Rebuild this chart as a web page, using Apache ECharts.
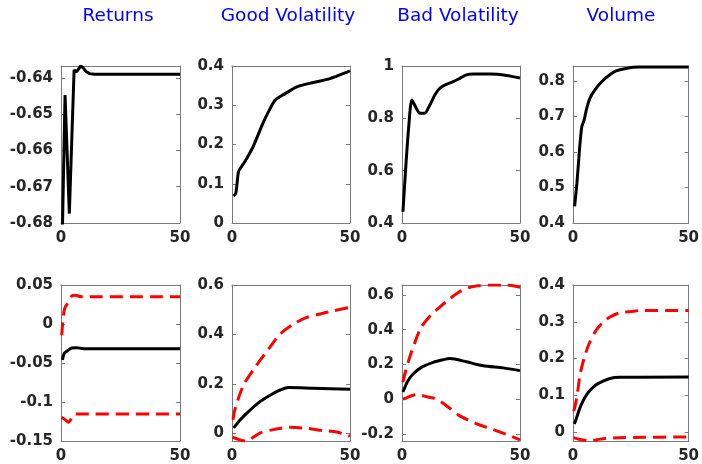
<!DOCTYPE html>
<html>
<head>
<meta charset="utf-8">
<script src="https://cdn.jsdelivr.net/npm/echarts@6/dist/echarts.min.js"></script>
<style>
html,body{margin:0;padding:0;background:#fff;}
#chart{width:702px;height:464px;}
</style>
</head>
<body>
<div id="chart"></div>
<script>
// ---- Titles ----
const titles = ['Returns', 'Good Volatility', 'Bad Volatility', 'Volume'];

// ---- Horizon (x) tick labels ----
const xTicks = [0, 50];

// ---- Top row: point estimates ----
const retTopX = [0.5, 1.7, 3.5, 5.5, 6.5, 8.3, 9.3, 10.5, 12, 14, 50];
const retTopY = [-0.685, -0.6447, -0.6774, -0.6378, -0.6383, -0.6367, -0.6372, -0.6382, -0.6388, -0.639, -0.639];

const gvTopX = [0.6, 1.6, 2.8, 4.2, 6.3, 9.2, 13.4, 16.2, 18.3, 21.8, 27.5, 34.5, 41.5, 49, 50];
const gvTopY = [0.069, 0.075, 0.132, 0.145, 0.165, 0.198, 0.258, 0.292, 0.313, 0.327, 0.347, 0.358, 0.368, 0.385, 0.388];

const bvTopX = [0.4, 1.8, 2.8, 4.2, 6.1, 7.5, 9.6, 11.8, 13.9, 16, 18.8, 21.7, 24.5, 27.3, 30.2, 37.3, 44.3, 50];
const bvTopY = [0.443, 0.641, 0.762, 0.870, 0.838, 0.819, 0.819, 0.851, 0.889, 0.915, 0.930, 0.940, 0.953, 0.966, 0.969, 0.969, 0.964, 0.954];

const voTopX = [0.7, 1.7, 2.8, 3.8, 4.8, 5.9, 7.3, 9.4, 12.3, 15.1, 18.6, 22.8, 28.5, 36.9, 50];
const voTopY = [0.447, 0.512, 0.606, 0.671, 0.690, 0.722, 0.751, 0.774, 0.797, 0.813, 0.828, 0.835, 0.839, 0.839, 0.839];

// ---- Bottom row: point estimate (black) and bands (red dashed) ----
const retBotX = [0.6, 1.3, 2.4, 4.5, 6.6, 9.4, 50];
const retBotY = [-0.046, -0.038, -0.035, -0.0307, -0.0303, -0.0316, -0.0316];
const retUpX = [0.3, 1.0, 1.7, 3.1, 4.5, 5.9, 8.7, 50];
const retUpY = [-0.0147, 0.0107, 0.0213, 0.0277, 0.036, 0.0369, 0.0348, 0.0348];
const retLoX = [0.3, 1.7, 3.1, 4.5, 5.9, 50];
const retLoY = [-0.1196, -0.1226, -0.126, -0.1205, -0.1154, -0.1154];

const gvBotX = [0.7, 3.5, 6.3, 12, 17.6, 20.4, 23.9, 34.5, 50];
const gvBotY = [0.023, 0.056, 0.083, 0.130, 0.163, 0.176, 0.186, 0.183, 0.179];
const gvUpX = [0.4, 1.4, 4.9, 9.9, 15.5, 20.4, 26, 31.7, 37.3, 43, 50];
const gvUpY = [0.056, 0.103, 0.196, 0.269, 0.342, 0.402, 0.442, 0.469, 0.483, 0.496, 0.51];
const gvLoX = [0.2, 5.6, 12, 17.6, 24.6, 31.7, 38.7, 44.4, 50];
const gvLoY = [-0.0145, -0.030, 0.003, 0.016, 0.026, 0.021, 0.012, 0.006, -0.010];

const bvBotX = [0.4, 2.5, 4.7, 8.2, 13.2, 17.4, 20.3, 27.3, 34.4, 42.9, 50];
const bvBotY = [0.041, 0.106, 0.145, 0.183, 0.212, 0.227, 0.234, 0.215, 0.192, 0.180, 0.164];
const bvUpX = [0.4, 1, 3, 5, 8, 12, 16, 20, 24, 28, 32, 38, 44, 50];
const bvUpY = [0.097, 0.135, 0.23, 0.31, 0.41, 0.48, 0.53, 0.575, 0.615, 0.64, 0.653, 0.657, 0.657, 0.644];
const bvLoX = [0.4, 1, 6, 11, 14, 17, 20, 24, 28, 33, 38, 44, 50];
const bvLoY = [0.0, 0.003, 0.026, 0.012, 0.004, -0.020, -0.050, -0.092, -0.120, -0.149, -0.172, -0.202, -0.234];

const voBotX = [0.6, 2, 3, 5, 7, 10, 13, 16, 20, 50];
const voBotY = [0.022, 0.048, 0.066, 0.093, 0.111, 0.129, 0.139, 0.146, 0.149, 0.150];
const voUpX = [0.3, 1, 2, 3, 4, 5, 7, 10, 13, 16, 20, 25, 30, 50];
const voUpY = [0.057, 0.074, 0.11, 0.155, 0.182, 0.205, 0.241, 0.277, 0.299, 0.313, 0.324, 0.328, 0.331, 0.331];
const voLoX = [0.3, 3, 5, 7, 10, 14, 20, 30, 50];
const voLoY = [-0.015, -0.020, -0.022, -0.024, -0.021, -0.017, -0.015, -0.014, -0.013];

// ---- Y tick labels per panel ----
const yTicks = [
  [-0.68, -0.67, -0.66, -0.65, -0.64],
  [0, 0.1, 0.2, 0.3, 0.4],
  [0.4, 0.6, 0.8, 1],
  [0.4, 0.5, 0.6, 0.7, 0.8],
  [-0.15, -0.1, -0.05, 0, 0.05],
  [0, 0.2, 0.4, 0.6],
  [-0.2, 0, 0.2, 0.4, 0.6],
  [0, 0.1, 0.2, 0.3, 0.4]
];
const yMin = [-0.68, 0, 0.4, 0.4, -0.15, -0.03, -0.241, -0.024];
const yMax = [-0.6367, 0.4, 1, 0.842, 0.05, 0.6, 0.657, 0.4];

// ---- Layout (pixels) ----
const colLeft = [61, 232, 402, 573];
const colWidth = [119, 118, 118, 118];
const rowTop = [66, 285];
const rowHeight = [157, 158];
const titleX = [118, 288, 458, 621];

const pair = (xs, ys) => xs.map((x, i) => [x, ys[i]]);

const black = [pair(retTopX, retTopY), pair(gvTopX, gvTopY), pair(bvTopX, bvTopY), pair(voTopX, voTopY),
               pair(retBotX, retBotY), pair(gvBotX, gvBotY), pair(bvBotX, bvBotY), pair(voBotX, voBotY)];
const upper = [null, null, null, null, pair(retUpX, retUpY), pair(gvUpX, gvUpY), pair(bvUpX, bvUpY), pair(voUpX, voUpY)];
const lower = [null, null, null, null, pair(retLoX, retLoY), pair(gvLoX, gvLoY), pair(bvLoX, bvLoY), pair(voLoX, voLoY)];

const axisColor = '#7a7a7a';
const labelFont = { color: '#262626', fontFamily: 'DejaVu Sans', fontWeight: 'bold', fontSize: 15 };
const fmt = v => String(+(+v).toFixed(4));
const dash = [13, 7];

const grid = [], xAxis = [], yAxis = [], series = [];
for (let i = 0; i < 8; i++) {
  const r = Math.floor(i / 4), c = i % 4;
  grid.push({ left: colLeft[c], top: rowTop[r], width: colWidth[c], height: rowHeight[r], containLabel: false });
  xAxis.push({
    type: 'value', gridIndex: i, position: 'bottom', min: 0, max: 50, interval: 50,
    axisLine: { show: true, onZero: false, lineStyle: { color: axisColor, width: 1 } },
    axisTick: { show: false },
    splitLine: { show: false },
    axisLabel: Object.assign({ margin: 8, formatter: fmt, customValues: xTicks }, labelFont)
  });
  xAxis.push({
    type: 'value', gridIndex: i, position: 'top', min: 0, max: 50,
    axisLine: { show: true, onZero: false, lineStyle: { color: axisColor, width: 1 } },
    axisTick: { show: false }, axisLabel: { show: false }, splitLine: { show: false }
  });
  yAxis.push({
    type: 'value', gridIndex: i, position: 'left', min: yMin[i], max: yMax[i],
    axisLine: { show: true, onZero: false, lineStyle: { color: axisColor, width: 1 } },
    axisTick: { show: true, inside: true, length: 4, customValues: yTicks[i], lineStyle: { color: axisColor } },
    splitLine: { show: false },
    axisLabel: Object.assign({ margin: 8, formatter: fmt, customValues: yTicks[i] }, labelFont)
  });
  yAxis.push({
    type: 'value', gridIndex: i, position: 'right', min: yMin[i], max: yMax[i],
    axisLine: { show: true, onZero: false, lineStyle: { color: axisColor, width: 1 } },
    axisTick: { show: true, inside: true, length: 4, customValues: yTicks[i], lineStyle: { color: axisColor } },
    axisLabel: { show: false }, splitLine: { show: false }
  });
  const xi = 2 * i, yi = 2 * i;
  if (upper[i]) {
    series.push({ type: 'line', xAxisIndex: xi, yAxisIndex: yi, data: upper[i], showSymbol: false, symbol: 'none',
      smooth: 0.3, clip: true, lineStyle: { color: '#ff0000', width: 3, type: dash } });
    series.push({ type: 'line', xAxisIndex: xi, yAxisIndex: yi, data: lower[i], showSymbol: false, symbol: 'none',
      smooth: 0.3, clip: true, lineStyle: { color: '#ff0000', width: 3, type: dash } });
  }
  series.push({ type: 'line', xAxisIndex: xi, yAxisIndex: yi, data: black[i], showSymbol: false, symbol: 'none',
    smooth: i === 0 ? false : 0.25, clip: true, lineStyle: { color: '#000000', width: 3 } });
}

const graphic = titles.map((t, c) => ({
  type: 'text', x: titleX[c], y: 16,
  style: { text: t, fill: '#0000ff', font: '18.5px "DejaVu Sans"', textAlign: 'center', textVerticalAlign: 'middle' }
}));

const chart = echarts.init(document.getElementById('chart'), null, { renderer: 'canvas' });
chart.setOption({ animation: false, backgroundColor: '#ffffff', grid, xAxis, yAxis, series, graphic });
</script>
</body>
</html>
